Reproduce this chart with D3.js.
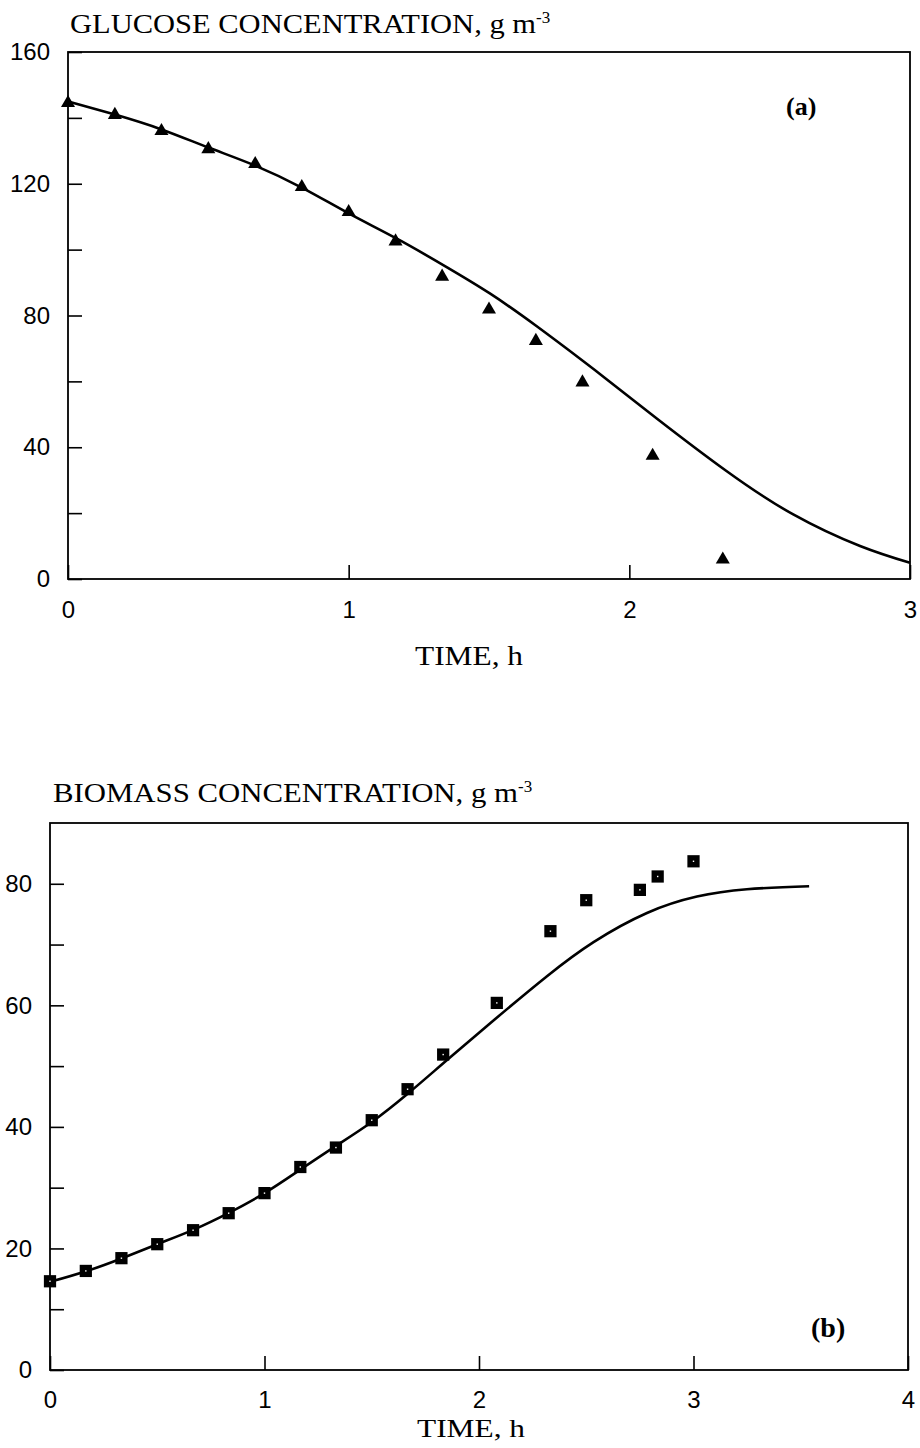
<!DOCTYPE html>
<html>
<head>
<meta charset="utf-8">
<script src="https://cdn.jsdelivr.net/npm/d3@7"></script>
<style>
  body { margin: 0; background: #fff; }
  svg { display: block; }
  .tick text { font-family: "Liberation Sans", Arial, sans-serif; font-size: 24px; fill: #000; }
  .tick line { stroke: #000; stroke-width: 1.6; }
  .serif { font-family: "Liberation Serif", "Times New Roman", serif; fill: #000; }
</style>
</head>
<body>
<div id="chart"></div>
<script>
// Glucose (panel a) - measured points
const glucoseTime = [0, 0.167, 0.333, 0.5, 0.667, 0.833, 1.0, 1.167, 1.333, 1.5, 1.667, 1.833, 2.083, 2.333];
const glucoseObs  = [144.5, 140.9, 136, 130.5, 126, 119, 111.4, 102.5, 91.8, 81.8, 72.3, 59.7, 37.4, 5.9];
// Glucose - model curve
const glucoseFitTime = [0, 0.167, 0.333, 0.5, 0.667, 0.838, 1.0, 1.17, 1.337, 1.503, 1.669, 1.835, 1.92, 2.1, 2.346, 2.584, 2.822, 3.0];
const glucoseFit     = [145, 141, 136.5, 131, 125.5, 118.6, 111, 103.4, 95.3, 86.7, 76.8, 66.2, 60.6, 48.6, 32.8, 19.6, 10.0, 4.9];

// Biomass (panel b) - measured points
const biomassTime = [0, 0.167, 0.333, 0.5, 0.667, 0.833, 1.0, 1.167, 1.333, 1.5, 1.667, 1.833, 2.083, 2.333, 2.5, 2.75, 2.833, 3.0];
const biomassObs  = [14.6, 16.3, 18.4, 20.7, 23.0, 25.8, 29.1, 33.4, 36.6, 41.1, 46.2, 51.9, 60.4, 72.2, 77.3, 79.0, 81.2, 83.7];
// Biomass - model curve
const biomassFitTime = [0, 0.172, 0.336, 0.5, 0.67, 0.836, 1.0, 1.164, 1.33, 1.5, 1.666, 1.851, 2.084, 2.317, 2.534, 2.783, 3.016, 3.249, 3.539];
const biomassFit     = [14.5, 16.3, 18.4, 20.7, 23.1, 25.9, 29.1, 32.9, 36.8, 40.8, 45.4, 51.0, 58.0, 64.8, 70.4, 75.2, 77.9, 79.1, 79.6];

const glucoseYTicks = [0, 20, 40, 60, 80, 100, 120, 140, 160];
const biomassYTicks = [0, 10, 20, 30, 40, 50, 60, 70, 80];

const svg = d3.select('#chart').append('svg')
  .attr('width', 920)
  .attr('height', 1448);

function drawPanel(p) {
  const x = d3.scaleLinear().domain(p.xDomain).range([p.left, p.right]);
  const y = d3.scaleLinear().domain(p.yDomain).range([p.bottom, p.top]);
  const g = svg.append('g');

  // axes, ticks pointing inside
  g.append('g')
    .attr('transform', `translate(${p.left},0)`)
    .call(d3.axisLeft(y).tickValues(p.yTicks).tickSize(-14).tickPadding(18)
      .tickFormat(d => p.yMajor.includes(d) ? d : ''))
    .call(a => a.select('.domain').remove());

  g.append('g')
    .attr('transform', `translate(0,${p.bottom})`)
    .call(d3.axisBottom(x).tickValues(p.xTicks).tickSize(-14).tickPadding(p.xPad)
      .tickFormat(d3.format('d')))
    .call(a => a.select('.domain').remove());

  // frame
  g.append('rect')
    .attr('x', p.left).attr('y', p.top)
    .attr('width', p.right - p.left).attr('height', p.bottom - p.top)
    .attr('fill', 'none').attr('stroke', '#000').attr('stroke-width', 1.8);

  // model curve
  const line = d3.line()
    .x((d, i) => x(p.fitT[i]))
    .y(d => y(d))
    .curve(d3.curveNatural);
  g.append('path')
    .datum(p.fit)
    .attr('d', line)
    .attr('fill', 'none')
    .attr('stroke', '#000')
    .attr('stroke-width', 2.6);

  // measured points
  g.selectAll('path.pt')
    .data(p.obs)
    .enter().append('path')
    .attr('class', 'pt')
    .attr('transform', (d, i) => `translate(${x(p.obsT[i])},${y(d)})`)
    .attr('d', d3.symbol(p.symbol, p.symbolSize)())
    .attr('fill', '#000');

  if (p.symbol === d3.symbolSquare) {
    g.selectAll('rect.dot')
      .data(p.obs)
      .enter().append('rect')
      .attr('class', 'dot')
      .attr('x', (d, i) => x(p.obsT[i]) - 0.7)
      .attr('y', d => y(d) - 0.7)
      .attr('width', 1.4).attr('height', 1.4)
      .attr('fill', '#fff');
  }

  // title with superscript
  const t = g.append('text')
    .attr('class', 'serif')
    .attr('x', p.titleX).attr('y', p.titleY)
    .style('font-size', '28px');
  t.append('tspan').text(p.title);
  t.append('tspan').attr('dy', -10).style('font-size', '17px').text('-3');

  // x axis label
  g.append('text')
    .attr('class', 'serif')
    .attr('x', p.xLabelX).attr('y', p.xLabelY)
    .attr('textLength', 108).attr('lengthAdjust', 'spacingAndGlyphs')
    .style('font-size', p.xLabelSize + 'px')
    .text('TIME, h');

  // panel tag
  g.append('text')
    .attr('class', 'serif')
    .attr('x', p.tagX).attr('y', p.tagY)
    .style('font-size', p.tagSize + 'px')
    .style('font-weight', 'bold')
    .text(p.tag);

  return t;
}

const tA = drawPanel({
  left: 68, right: 910, top: 52, bottom: 579,
  xDomain: [0, 3], yDomain: [0, 160],
  xTicks: [0, 1, 2, 3], yTicks: glucoseYTicks, yMajor: [0, 40, 80, 120, 160],
  xPad: 22,
  fitT: glucoseFitTime, fit: glucoseFit,
  obsT: glucoseTime, obs: glucoseObs,
  symbol: d3.symbolTriangle, symbolSize: 85,
  title: 'GLUCOSE CONCENTRATION, g m', titleX: 70, titleY: 33,
  xLabelX: 415, xLabelY: 665, xLabelSize: 28,
  tag: '(a)', tagX: 786, tagY: 115, tagSize: 26
});

const tB = drawPanel({
  left: 50, right: 908, top: 823, bottom: 1370,
  xDomain: [0, 4], yDomain: [0, 90],
  xTicks: [0, 1, 2, 3, 4], yTicks: biomassYTicks, yMajor: [0, 20, 40, 60, 80],
  xPad: 21,
  fitT: biomassFitTime, fit: biomassFit,
  obsT: biomassTime, obs: biomassObs,
  symbol: d3.symbolSquare, symbolSize: 150,
  title: 'BIOMASS CONCENTRATION, g m', titleX: 53, titleY: 802,
  xLabelX: 417, xLabelY: 1437, xLabelSize: 26,
  tag: '(b)', tagX: 811, tagY: 1337, tagSize: 28
});

// stretch the title so it spans the same width as in the figure
[[tA, 466], [tB, 465]].forEach(([t, w]) => {
  t.select('tspan').attr('textLength', w).attr('lengthAdjust', 'spacingAndGlyphs');
});
</script>
</body>
</html>
